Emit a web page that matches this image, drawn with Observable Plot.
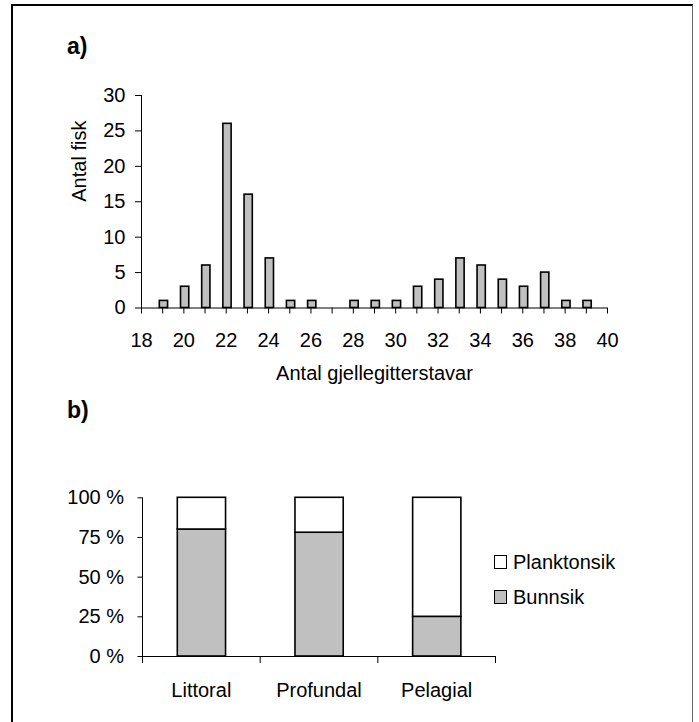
<!DOCTYPE html>
<html>
<head>
<meta charset="utf-8">
<script src="https://cdn.jsdelivr.net/npm/d3@7"></script>
<script src="https://cdn.jsdelivr.net/npm/@observablehq/plot@0.6"></script>
<style>
  html, body { margin: 0; padding: 0; background: #fff; overflow: hidden; }
  #wrap { position: relative; width: 699px; height: 722px; overflow: hidden; font-family: "Liberation Sans", Arial, sans-serif; }
  #border { position: absolute; left: 11px; top: 4px; width: 679px; height: 800px; border-left: 2px solid #000; border-top: 2px solid #000; border-right: 1.5px solid #666; }
  .panel { position: absolute; left: 0; }
  .tag { position: absolute; font-weight: bold; font-size: 23px; line-height: 23px; color: #000; }
  .legend { position: absolute; left: 494px; font-size: 20px; line-height: 20px; color: #000; }
  .legend .row { display: flex; align-items: center; height: 20px; margin-bottom: 15px; }
  .legend .sw { width: 11px; height: 12px; border: 1.3px solid #000; margin-right: 6px; }
</style>
</head>
<body>
<div id="wrap">
  <div id="border"></div>
  <div class="tag" style="left:67px; top:35px;">a)</div>
  <div class="tag" style="left:67px; top:399px;">b)</div>
  <div id="panelA" class="panel" style="top:0px;"></div>
  <div id="panelB" class="panel" style="top:400px;"></div>
  <div id="legend" class="legend" style="top:552px;"></div>
</div>
<script>
// ---- Panel a) data ----
const rakerCounts = [19, 20, 21, 22, 23, 24, 25, 26, 27, 28, 29, 30, 31, 32, 33, 34, 35, 36, 37, 38, 39];
const fishCounts  = [ 1,  3,  6, 26, 16,  7,  1,  1,  0,  1,  1,  1,  3,  4,  7,  6,  4,  3,  5,  1,  1];
const xTickLabelsA = [18, 20, 22, 24, 26, 28, 30, 32, 34, 36, 38, 40];
const yTicksA = [0, 5, 10, 15, 20, 25, 30];
const xTitleA = "Antal gjellegitterstavar";
const yTitleA = "Antal fisk";

// ---- Panel b) data ----
const habitats = ["Littoral", "Profundal", "Pelagial"];
const bunnsik = [80, 78, 25];
const planktonsik = [20, 22, 75];
const seriesNames = ["Planktonsik", "Bunnsik"];
const seriesColors = ["#ffffff", "#c0c0c0"];
const yTicksB = [0, 25, 50, 75, 100];

const font = {fontSize: "20px", fontFamily: "'Liberation Sans', Arial, sans-serif", background: "transparent", overflow: "visible"};

// Panel a
const histo = rakerCounts.map((n, i) => ({n, count: fishCounts[i]})).filter(d => d.count > 0);
const xMin = xTickLabelsA[0], xMax = xTickLabelsA[xTickLabelsA.length - 1];
const plotA = Plot.plot({
  width: 699, height: 400,
  marginLeft: 141, marginRight: 92, marginTop: 95, marginBottom: 92.5,
  style: font,
  x: {domain: [xMin, xMax]},
  y: {domain: [yTicksA[0], yTicksA[yTicksA.length - 1]]},
  marks: [
    Plot.rectY(histo, {x1: d => d.n - 0.135, x2: d => d.n + 0.255, y: "count", fill: "#c0c0c0", stroke: "#000", strokeWidth: 1.6}),
    Plot.ruleY([yTicksA[0]], {stroke: "#000"}),
    Plot.ruleX([xMin], {stroke: "#000"}),
    Plot.axisX({ticks: d3.range(xMin, xMax + 1), tickSize: 6, tickFormat: () => "", label: null}),
    Plot.axisX({ticks: xTickLabelsA, tickSize: 0, tickPadding: 25, label: null, fill: "#000"}),
    Plot.axisY({ticks: yTicksA, tickSize: 6, tickPadding: 10, label: null, fill: "#000"}),
    Plot.text([yTitleA], {text: d => d, frameAnchor: "left", dx: -62, rotate: -90, fill: "#000"}),
    Plot.text([xTitleA], {text: d => d, frameAnchor: "bottom", dy: 72, fill: "#000"})
  ]
});
document.getElementById("panelA").appendChild(plotA);

// Panel b
const rowsB = [];
habitats.forEach((h, i) => {
  rowsB.push({i, series: "Bunnsik", y1: 0, y2: bunnsik[i]});
  rowsB.push({i, series: "Planktonsik", y1: bunnsik[i], y2: bunnsik[i] + planktonsik[i]});
});
const colorOf = s => seriesColors[seriesNames.indexOf(s)];
const plotB = Plot.plot({
  width: 699, height: 322,
  marginLeft: 142, marginRight: 204, marginTop: 97.3, marginBottom: 66,
  style: font,
  x: {domain: [0, habitats.length]},
  y: {domain: [yTicksB[0], yTicksB[yTicksB.length - 1]]},
  marks: [
    Plot.rectY(rowsB, {x1: d => d.i + 0.3, x2: d => d.i + 0.71, y1: "y1", y2: "y2", fill: d => colorOf(d.series), stroke: "#000", strokeWidth: 1.6}),
    Plot.ruleY([yTicksB[0]], {stroke: "#000"}),
    Plot.ruleX([0], {stroke: "#000"}),
    Plot.axisX({ticks: d3.range(0, habitats.length + 1), tickSize: 7, tickFormat: () => "", label: null}),
    Plot.text(habitats, {x: (d, i) => i + 0.5, text: d => d, frameAnchor: "bottom", lineAnchor: "top", dy: 26, fill: "#000"}),
    Plot.axisY({ticks: yTicksB, tickSize: 4.5, tickPadding: 14, tickFormat: d => d + " %", label: null, fill: "#000"})
  ]
});
document.getElementById("panelB").appendChild(plotB);

// Legend
const legend = document.getElementById("legend");
seriesNames.forEach((s, i) => {
  const row = document.createElement("div");
  row.className = "row";
  const sw = document.createElement("div");
  sw.className = "sw";
  sw.style.background = seriesColors[i];
  const lab = document.createElement("span");
  lab.textContent = s;
  row.appendChild(sw); row.appendChild(lab);
  legend.appendChild(row);
});
</script>
</body>
</html>
